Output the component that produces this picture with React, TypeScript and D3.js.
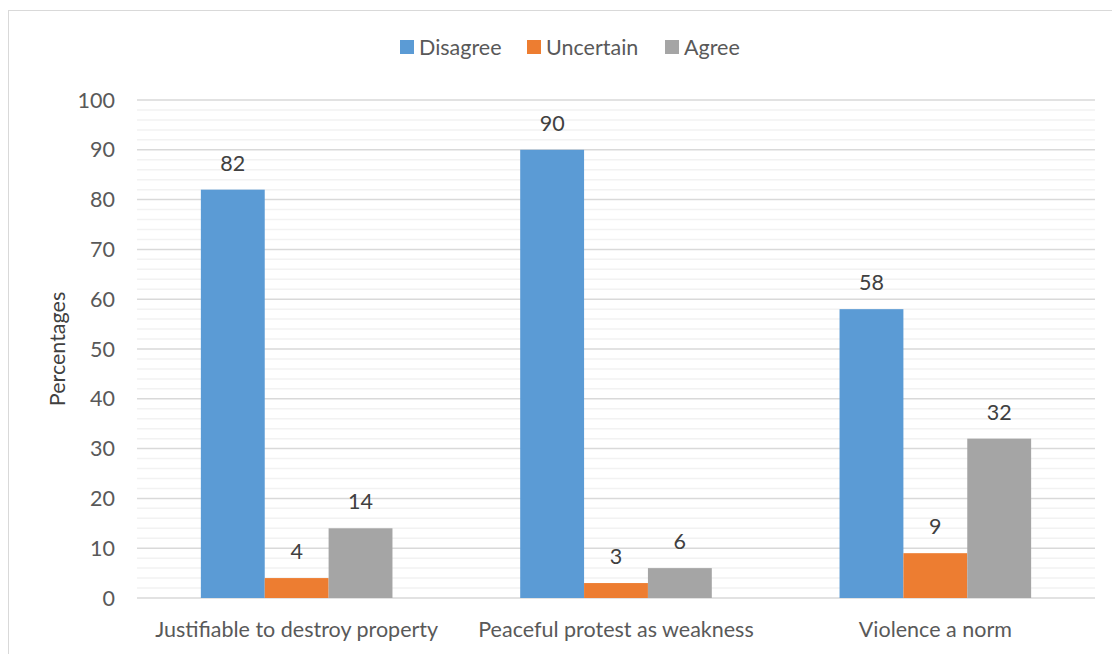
import React from "react";
import * as d3 from "d3";

const categories = ["Justifiable to destroy property", "Peaceful protest as weakness", "Violence a norm"];
const seriesNames = ["Disagree", "Uncertain", "Agree"];
const disagree = [82, 90, 58];
const uncertain = [4, 3, 9];
const agree = [14, 6, 32];
const colors = ["#5B9BD5", "#ED7D31", "#A5A5A5"];
const yTicks = [0, 10, 20, 30, 40, 50, 60, 70, 80, 90, 100];

const W = 1112, H = 654;
const plot = { left: 137, right: 1095, top: 100, bottom: 598 };
const FONT = "Lato, 'Open Sans', sans-serif";
const TXT = "#595959";
const FS = 21.5;

export default function App() {
  const series = [disagree, uncertain, agree];
  const y = d3.scaleLinear().domain([0, 100]).range([plot.bottom, plot.top]);
  const x0 = d3.scaleBand().domain(categories).range([plot.left, plot.right]).paddingInner(0.4).paddingOuter(0.2);
  const x1 = d3.scaleBand().domain(seriesNames).range([0, x0.bandwidth()]);
  const minor = d3.range(0, 101, 2).filter((v) => v % 10 !== 0);
  const legendX = [400, 527, 665];
  return (
    <svg width={W} height={H} style={{ position: "absolute", left: 0, top: 0, background: "#fff" }} fontFamily={FONT}>
      <rect x={8.5} y={10.5} width={W} height={H} fill="#fff" stroke="#D9D9D9" strokeWidth={1} />
      {minor.map((v) => (
        <line key={"m" + v} x1={plot.left} x2={plot.right} y1={y(v)} y2={y(v)} stroke="#F2F2F2" strokeWidth={1.5} />
      ))}
      {yTicks.map((v) => (
        <line key={"g" + v} x1={plot.left} x2={plot.right} y1={y(v)} y2={y(v)} stroke="#D9D9D9" strokeWidth={1.5} />
      ))}
      {yTicks.map((v) => (
        <text key={"t" + v} x={115} y={y(v)} dy="0.35em" textAnchor="end" fontSize={FS} fill={TXT}>{v}</text>
      ))}
      {categories.map((c, i) => (
        <g key={c}>
          {series.map((s, j) => {
            const bx = (x0(c) as number) + (x1(seriesNames[j]) as number);
            return (
              <g key={j}>
                <rect x={bx} y={y(s[i])} width={x1.bandwidth()} height={plot.bottom - y(s[i])} fill={colors[j]} />
                <text x={bx + x1.bandwidth() / 2} y={y(s[i]) - 19} textAnchor="middle" fontSize={FS} fill="#404040">{s[i]}</text>
              </g>
            );
          })}
          <text x={(x0(c) as number) + x0.bandwidth() / 2} y={637} textAnchor="middle" fontSize={FS} fill={TXT}>{c}</text>
        </g>
      ))}
      <text transform={`translate(65,${(plot.top + plot.bottom) / 2}) rotate(-90)`} textAnchor="middle" fontSize={FS} fill="#404040">Percentages</text>
      {seriesNames.map((n, j) => (
        <g key={n}>
          <rect x={legendX[j]} y={40} width={14} height={14} fill={colors[j]} />
          <text x={legendX[j] + 19} y={47} dy="0.35em" fontSize={FS} fill={TXT}>{n}</text>
        </g>
      ))}
    </svg>
  );
}
